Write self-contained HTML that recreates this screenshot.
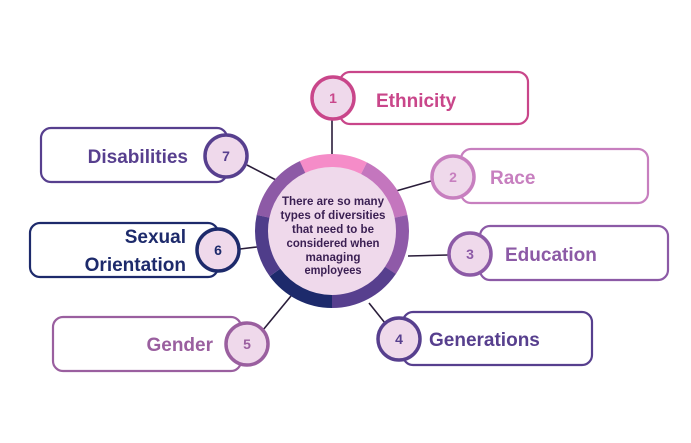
<!DOCTYPE html>
<html><head><meta charset="utf-8"><style>html,body{margin:0;padding:0;background:#fff}svg{display:block}</style></head>
<body>
<svg width="691" height="443" viewBox="0 0 691 443" xmlns="http://www.w3.org/2000/svg" font-family="Liberation Sans, sans-serif" font-weight="bold">
<g stroke="#2a1d3a" stroke-width="1.6">
<line x1="332" y1="120" x2="332" y2="156"/>
<line x1="431" y1="181" x2="396" y2="191"/>
<line x1="448" y1="255" x2="408" y2="256"/>
<line x1="385" y1="323" x2="369" y2="303"/>
<line x1="263" y1="330" x2="291" y2="296"/>
<line x1="240" y1="249" x2="257" y2="247"/>
<line x1="247" y1="165" x2="276" y2="180"/>
</g>
<g fill="#fff" stroke-width="2.2">
<rect x="340" y="72" width="188" height="52" rx="10" stroke="#c9468a"/>
<rect x="461" y="149" width="187" height="54" rx="10" stroke="#c77fbf"/>
<rect x="480" y="226" width="188" height="54" rx="10" stroke="#8c5aa6"/>
<rect x="403" y="312" width="189" height="53" rx="10" stroke="#573f8e"/>
<rect x="53" y="317" width="188" height="54" rx="10" stroke="#9a5f9f"/>
<rect x="30" y="223" width="188" height="54" rx="10" stroke="#1d2a6b"/>
<rect x="41" y="128" width="186" height="54" rx="10" stroke="#573f8e"/>
</g>
<g fill="#efd9eb" stroke-width="3.5">
<circle cx="333" cy="98" r="21" stroke="#c9468a"/>
<circle cx="453" cy="177" r="21" stroke="#c77fbf"/>
<circle cx="470" cy="254" r="21" stroke="#8c5aa6"/>
<circle cx="399" cy="339" r="21" stroke="#573f8e"/>
<circle cx="247" cy="344" r="21" stroke="#9a5f9f"/>
<circle cx="218" cy="250" r="21" stroke="#1d2a6b"/>
<circle cx="226" cy="156" r="21" stroke="#573f8e"/>
</g>
<g font-size="14" text-anchor="middle">
<text x="333" y="103" fill="#c9468a">1</text>
<text x="453" y="182" fill="#c77fbf">2</text>
<text x="470" y="259" fill="#8c5aa6">3</text>
<text x="399" y="344" fill="#573f8e">4</text>
<text x="247" y="349" fill="#9a5f9f">5</text>
<text x="218" y="255" fill="#1d2a6b">6</text>
<text x="226" y="161" fill="#573f8e">7</text>
</g>
<g font-size="19">
<text x="376" y="107" fill="#c9468a">Ethnicity</text>
<text x="490" y="184" fill="#c77fbf">Race</text>
<text x="505" y="261" fill="#8c5aa6">Education</text>
<text x="429" y="346" fill="#573f8e">Generations</text>
<text x="213" y="351" fill="#9a5f9f" text-anchor="end">Gender</text>
<text x="188" y="163" fill="#573f8e" text-anchor="end">Disabilities</text>
<text x="186" y="243" fill="#1d2a6b" text-anchor="end">Sexual</text>
<text x="186" y="271" fill="#1d2a6b" text-anchor="end">Orientation</text>
</g>
<circle cx="332" cy="231" r="65" fill="#efd9eb"/>
<g fill="none" stroke-width="13">
<circle cx="332" cy="231" r="70.5" stroke="#f58cc8" stroke-dasharray="64 500" transform="rotate(-115 332 231)"/>
<circle cx="332" cy="231" r="70.5" stroke="#c476be" stroke-dasharray="62.8 500" transform="rotate(-63 332 231)"/>
<circle cx="332" cy="231" r="70.5" stroke="#8f5aa8" stroke-dasharray="56.6 500" transform="rotate(-12 332 231)"/>
<circle cx="332" cy="231" r="70.5" stroke="#573f8e" stroke-dasharray="68.9 500" transform="rotate(34 332 231)"/>
<circle cx="332" cy="231" r="70.5" stroke="#1d2a6b" stroke-dasharray="66.4 500" transform="rotate(90 332 231)"/>
<circle cx="332" cy="231" r="70.5" stroke="#4f3d8a" stroke-dasharray="59.1 500" transform="rotate(144 332 231)"/>
<circle cx="332" cy="231" r="70.5" stroke="#8d5aa6" stroke-dasharray="65.5 500" transform="rotate(192 332 231)"/>
</g>
<g font-size="11.5" fill="#3a1f52" text-anchor="middle" lengthAdjust="spacingAndGlyphs">
<text x="333" y="205" textLength="102" lengthAdjust="spacingAndGlyphs">There are so many</text>
<text x="333" y="219" textLength="105" lengthAdjust="spacingAndGlyphs">types of diversities</text>
<text x="333" y="233" textLength="82" lengthAdjust="spacingAndGlyphs">that need to be</text>
<text x="333" y="247" textLength="93" lengthAdjust="spacingAndGlyphs">considered when</text>
<text x="333" y="261" textLength="55" lengthAdjust="spacingAndGlyphs">managing</text>
<text x="333" y="274" textLength="57" lengthAdjust="spacingAndGlyphs">employees</text>
</g>
</svg>
</body></html>
